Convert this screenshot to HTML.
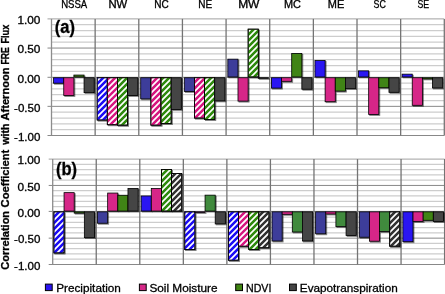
<!DOCTYPE html>
<html><head><meta charset="utf-8"><title>Correlation chart</title>
<style>html,body{margin:0;padding:0;background:#fff}body{width:445px;height:294px;overflow:hidden}</style></head>
<body>
<svg width="445" height="294" viewBox="0 0 445 294" style="display:block">
<defs>
<filter id="sh" x="-20%" y="-20%" width="150%" height="150%"><feGaussianBlur in="SourceAlpha" stdDeviation="0.55"/><feOffset dx="0.8" dy="0.8"/><feComponentTransfer><feFuncA type="linear" slope="0.5"/></feComponentTransfer><feMerge><feMergeNode/><feMergeNode in="SourceGraphic"/></feMerge></filter>
</defs>
<rect width="445" height="294" fill="#fff"/>
<line x1="51.50" x2="444.30" y1="24.73" y2="24.73" stroke="#cdcdcd" stroke-width="1.25"/>
<line x1="51.50" x2="444.30" y1="30.56" y2="30.56" stroke="#cdcdcd" stroke-width="1.25"/>
<line x1="51.50" x2="444.30" y1="36.39" y2="36.39" stroke="#cdcdcd" stroke-width="1.25"/>
<line x1="51.50" x2="444.30" y1="42.22" y2="42.22" stroke="#cdcdcd" stroke-width="1.25"/>
<line x1="51.50" x2="444.30" y1="53.88" y2="53.88" stroke="#cdcdcd" stroke-width="1.25"/>
<line x1="51.50" x2="444.30" y1="59.71" y2="59.71" stroke="#cdcdcd" stroke-width="1.25"/>
<line x1="51.50" x2="444.30" y1="65.54" y2="65.54" stroke="#cdcdcd" stroke-width="1.25"/>
<line x1="51.50" x2="444.30" y1="71.37" y2="71.37" stroke="#cdcdcd" stroke-width="1.25"/>
<line x1="51.50" x2="444.30" y1="83.03" y2="83.03" stroke="#cdcdcd" stroke-width="1.25"/>
<line x1="51.50" x2="444.30" y1="88.86" y2="88.86" stroke="#cdcdcd" stroke-width="1.25"/>
<line x1="51.50" x2="444.30" y1="94.69" y2="94.69" stroke="#cdcdcd" stroke-width="1.25"/>
<line x1="51.50" x2="444.30" y1="100.52" y2="100.52" stroke="#cdcdcd" stroke-width="1.25"/>
<line x1="51.50" x2="444.30" y1="112.18" y2="112.18" stroke="#cdcdcd" stroke-width="1.25"/>
<line x1="51.50" x2="444.30" y1="118.01" y2="118.01" stroke="#cdcdcd" stroke-width="1.25"/>
<line x1="51.50" x2="444.30" y1="123.84" y2="123.84" stroke="#cdcdcd" stroke-width="1.25"/>
<line x1="51.50" x2="444.30" y1="129.67" y2="129.67" stroke="#cdcdcd" stroke-width="1.25"/>
<line x1="47.50" x2="444.30" y1="18.90" y2="18.90" stroke="#a0a0a0" stroke-width="1"/>
<line x1="47.50" x2="444.30" y1="48.05" y2="48.05" stroke="#888888" stroke-width="1"/>
<line x1="47.50" x2="444.30" y1="77.30" y2="77.30" stroke="#888888" stroke-width="1"/>
<line x1="47.50" x2="444.30" y1="106.35" y2="106.35" stroke="#888888" stroke-width="1"/>
<line x1="47.50" x2="444.30" y1="135.50" y2="135.50" stroke="#888888" stroke-width="1"/>
<line x1="51.50" x2="51.50" y1="18.90" y2="135.50" stroke="#8c8c8c" stroke-width="1.3"/>
<line x1="95.14" x2="95.14" y1="18.90" y2="135.50" stroke="#747474" stroke-width="1.3"/>
<line x1="138.79" x2="138.79" y1="18.90" y2="135.50" stroke="#747474" stroke-width="1.3"/>
<line x1="182.43" x2="182.43" y1="18.90" y2="135.50" stroke="#747474" stroke-width="1.3"/>
<line x1="226.08" x2="226.08" y1="18.90" y2="135.50" stroke="#747474" stroke-width="1.3"/>
<line x1="269.72" x2="269.72" y1="18.90" y2="135.50" stroke="#747474" stroke-width="1.3"/>
<line x1="313.37" x2="313.37" y1="18.90" y2="135.50" stroke="#747474" stroke-width="1.3"/>
<line x1="357.01" x2="357.01" y1="18.90" y2="135.50" stroke="#747474" stroke-width="1.3"/>
<line x1="400.66" x2="400.66" y1="18.90" y2="135.50" stroke="#747474" stroke-width="1.3"/>
<line x1="444.30" x2="444.30" y1="18.90" y2="135.50" stroke="#747474" stroke-width="1.3"/>
<g filter="url(#sh)" stroke="#000" stroke-width="0.8">
<rect x="53.60" y="77.75" width="10.15" height="5.45" fill="#2a14f2"/>
<rect x="63.75" y="77.75" width="10.15" height="17.75" fill="#d62888"/>
<rect x="73.90" y="75.05" width="10.15" height="1.90" fill="#3f8412"/>
<rect x="84.05" y="77.75" width="10.15" height="14.85" fill="#444444"/>
<clipPath id="c1"><rect x="97.16" y="77.75" width="10.15" height="42.25"/></clipPath>
<rect x="97.16" y="77.75" width="10.15" height="42.25" fill="#fff"/>
<path d="M96.16 72.84L108.31 60.69M96.16 78.84L108.31 66.69M96.16 84.84L108.31 72.69M96.16 90.84L108.31 78.69M96.16 96.84L108.31 84.69M96.16 102.84L108.31 90.69M96.16 108.84L108.31 96.69M96.16 114.84L108.31 102.69M96.16 120.84L108.31 108.69M96.16 126.84L108.31 114.69M96.16 132.84L108.31 120.69M96.16 138.84L108.31 126.69" stroke="#1f10f5" stroke-width="2.55" fill="none" clip-path="url(#c1)"/>
<rect x="97.16" y="77.75" width="10.15" height="42.25" fill="none"/>
<clipPath id="c2"><rect x="107.31" y="77.75" width="10.15" height="46.95"/></clipPath>
<rect x="107.31" y="77.75" width="10.15" height="46.95" fill="#fff"/>
<path d="M106.31 74.69L118.46 62.54M106.31 80.69L118.46 68.54M106.31 86.69L118.46 74.54M106.31 92.69L118.46 80.54M106.31 98.69L118.46 86.54M106.31 104.69L118.46 92.54M106.31 110.69L118.46 98.54M106.31 116.69L118.46 104.54M106.31 122.69L118.46 110.54M106.31 128.69L118.46 116.54M106.31 134.69L118.46 122.54M106.31 140.69L118.46 128.54" stroke="#d6197f" stroke-width="2.55" fill="none" clip-path="url(#c2)"/>
<rect x="107.31" y="77.75" width="10.15" height="46.95" fill="none"/>
<clipPath id="c3"><rect x="117.46" y="77.75" width="10.15" height="47.35"/></clipPath>
<rect x="117.46" y="77.75" width="10.15" height="47.35" fill="#fff"/>
<path d="M116.46 76.54L128.61 64.39M116.46 82.54L128.61 70.39M116.46 88.54L128.61 76.39M116.46 94.54L128.61 82.39M116.46 100.54L128.61 88.39M116.46 106.54L128.61 94.39M116.46 112.54L128.61 100.39M116.46 118.54L128.61 106.39M116.46 124.54L128.61 112.39M116.46 130.54L128.61 118.39M116.46 136.54L128.61 124.39M116.46 142.54L128.61 130.39" stroke="#2e8a0a" stroke-width="2.55" fill="none" clip-path="url(#c3)"/>
<rect x="117.46" y="77.75" width="10.15" height="47.35" fill="none"/>
<rect x="127.61" y="77.75" width="10.15" height="17.75" fill="#444444"/>
<rect x="140.72" y="77.75" width="10.15" height="21.15" fill="#3c3c9a"/>
<clipPath id="c4"><rect x="150.87" y="77.75" width="10.15" height="47.35"/></clipPath>
<rect x="150.87" y="77.75" width="10.15" height="47.35" fill="#fff"/>
<path d="M149.87 73.13L162.02 60.98M149.87 79.13L162.02 66.98M149.87 85.13L162.02 72.98M149.87 91.13L162.02 78.98M149.87 97.13L162.02 84.98M149.87 103.13L162.02 90.98M149.87 109.13L162.02 96.98M149.87 115.13L162.02 102.98M149.87 121.13L162.02 108.98M149.87 127.13L162.02 114.98M149.87 133.13L162.02 120.98M149.87 139.13L162.02 126.98" stroke="#d6197f" stroke-width="2.55" fill="none" clip-path="url(#c4)"/>
<rect x="150.87" y="77.75" width="10.15" height="47.35" fill="none"/>
<clipPath id="c5"><rect x="161.02" y="77.75" width="10.15" height="45.85"/></clipPath>
<rect x="161.02" y="77.75" width="10.15" height="45.85" fill="#fff"/>
<path d="M160.02 74.98L172.17 62.83M160.02 80.98L172.17 68.83M160.02 86.98L172.17 74.83M160.02 92.98L172.17 80.83M160.02 98.98L172.17 86.83M160.02 104.98L172.17 92.83M160.02 110.98L172.17 98.83M160.02 116.98L172.17 104.83M160.02 122.98L172.17 110.83M160.02 128.98L172.17 116.83M160.02 134.98L172.17 122.83M160.02 140.98L172.17 128.83" stroke="#2e8a0a" stroke-width="2.55" fill="none" clip-path="url(#c5)"/>
<rect x="161.02" y="77.75" width="10.15" height="45.85" fill="none"/>
<rect x="171.17" y="77.75" width="10.15" height="31.65" fill="#444444"/>
<rect x="184.28" y="77.75" width="10.15" height="13.65" fill="#3c3c9a"/>
<clipPath id="c6"><rect x="194.43" y="77.75" width="10.15" height="40.25"/></clipPath>
<rect x="194.43" y="77.75" width="10.15" height="40.25" fill="#fff"/>
<path d="M193.43 71.57L205.58 59.42M193.43 77.57L205.58 65.42M193.43 83.57L205.58 71.42M193.43 89.57L205.58 77.42M193.43 95.57L205.58 83.42M193.43 101.57L205.58 89.42M193.43 107.57L205.58 95.42M193.43 113.57L205.58 101.42M193.43 119.57L205.58 107.42M193.43 125.57L205.58 113.42M193.43 131.57L205.58 119.42" stroke="#d6197f" stroke-width="2.55" fill="none" clip-path="url(#c6)"/>
<rect x="194.43" y="77.75" width="10.15" height="40.25" fill="none"/>
<clipPath id="c7"><rect x="204.58" y="77.75" width="10.15" height="41.75"/></clipPath>
<rect x="204.58" y="77.75" width="10.15" height="41.75" fill="#fff"/>
<path d="M203.58 73.42L215.73 61.27M203.58 79.42L215.73 67.27M203.58 85.42L215.73 73.27M203.58 91.42L215.73 79.27M203.58 97.42L215.73 85.27M203.58 103.42L215.73 91.27M203.58 109.42L215.73 97.27M203.58 115.42L215.73 103.27M203.58 121.42L215.73 109.27M203.58 127.42L215.73 115.27M203.58 133.42L215.73 121.27" stroke="#2e8a0a" stroke-width="2.55" fill="none" clip-path="url(#c7)"/>
<rect x="204.58" y="77.75" width="10.15" height="41.75" fill="none"/>
<rect x="214.73" y="77.75" width="10.15" height="23.15" fill="#444444"/>
<rect x="227.84" y="59.15" width="10.15" height="17.80" fill="#3c3c9a"/>
<rect x="237.99" y="77.75" width="10.15" height="23.35" fill="#d62888"/>
<clipPath id="c8"><rect x="248.14" y="29.15" width="10.15" height="47.80"/></clipPath>
<rect x="248.14" y="29.15" width="10.15" height="47.80" fill="#fff"/>
<path d="M247.14 23.86L259.29 11.71M247.14 29.86L259.29 17.71M247.14 35.86L259.29 23.71M247.14 41.86L259.29 29.71M247.14 47.86L259.29 35.71M247.14 53.86L259.29 41.71M247.14 59.86L259.29 47.71M247.14 65.86L259.29 53.71M247.14 71.86L259.29 59.71M247.14 77.86L259.29 65.71M247.14 83.86L259.29 71.71M247.14 89.86L259.29 77.71M247.14 95.86L259.29 83.71" stroke="#2e8a0a" stroke-width="2.55" fill="none" clip-path="url(#c8)"/>
<rect x="248.14" y="29.15" width="10.15" height="47.80" fill="none"/>
<rect x="258.29" y="77.75" width="10.15" height="0.55" fill="#444444"/>
<rect x="271.40" y="77.75" width="10.15" height="10.35" fill="#2a14f2"/>
<rect x="281.55" y="77.75" width="10.15" height="3.55" fill="#d62888"/>
<rect x="291.70" y="53.45" width="10.15" height="23.50" fill="#3f8412"/>
<rect x="301.85" y="77.75" width="10.15" height="11.45" fill="#444444"/>
<rect x="314.96" y="60.55" width="10.15" height="16.40" fill="#2a14f2"/>
<rect x="325.11" y="77.75" width="10.15" height="23.95" fill="#d62888"/>
<rect x="335.26" y="77.75" width="10.15" height="13.35" fill="#3f8412"/>
<rect x="345.41" y="77.75" width="10.15" height="10.85" fill="#444444"/>
<rect x="358.52" y="70.85" width="10.15" height="6.10" fill="#2a14f2"/>
<rect x="368.67" y="77.75" width="10.15" height="36.65" fill="#d62888"/>
<rect x="378.82" y="77.75" width="10.15" height="9.95" fill="#3f8412"/>
<rect x="388.97" y="77.75" width="10.15" height="14.55" fill="#444444"/>
<rect x="402.08" y="74.15" width="10.15" height="2.80" fill="#2a14f2"/>
<rect x="412.23" y="77.75" width="10.15" height="27.55" fill="#d62888"/>
<rect x="422.38" y="77.75" width="10.15" height="1.15" fill="#3f8412"/>
<rect x="432.53" y="77.75" width="10.15" height="10.25" fill="#444444"/>
</g>
<line x1="52.70" x2="444.60" y1="164.37" y2="164.37" stroke="#cdcdcd" stroke-width="1.25"/>
<line x1="52.70" x2="444.60" y1="169.64" y2="169.64" stroke="#cdcdcd" stroke-width="1.25"/>
<line x1="52.70" x2="444.60" y1="174.91" y2="174.91" stroke="#cdcdcd" stroke-width="1.25"/>
<line x1="52.70" x2="444.60" y1="180.18" y2="180.18" stroke="#cdcdcd" stroke-width="1.25"/>
<line x1="52.70" x2="444.60" y1="190.72" y2="190.72" stroke="#cdcdcd" stroke-width="1.25"/>
<line x1="52.70" x2="444.60" y1="195.99" y2="195.99" stroke="#cdcdcd" stroke-width="1.25"/>
<line x1="52.70" x2="444.60" y1="201.26" y2="201.26" stroke="#cdcdcd" stroke-width="1.25"/>
<line x1="52.70" x2="444.60" y1="206.53" y2="206.53" stroke="#cdcdcd" stroke-width="1.25"/>
<line x1="52.70" x2="444.60" y1="217.07" y2="217.07" stroke="#cdcdcd" stroke-width="1.25"/>
<line x1="52.70" x2="444.60" y1="222.34" y2="222.34" stroke="#cdcdcd" stroke-width="1.25"/>
<line x1="52.70" x2="444.60" y1="227.61" y2="227.61" stroke="#cdcdcd" stroke-width="1.25"/>
<line x1="52.70" x2="444.60" y1="232.88" y2="232.88" stroke="#cdcdcd" stroke-width="1.25"/>
<line x1="52.70" x2="444.60" y1="243.42" y2="243.42" stroke="#cdcdcd" stroke-width="1.25"/>
<line x1="52.70" x2="444.60" y1="248.69" y2="248.69" stroke="#cdcdcd" stroke-width="1.25"/>
<line x1="52.70" x2="444.60" y1="253.96" y2="253.96" stroke="#cdcdcd" stroke-width="1.25"/>
<line x1="52.70" x2="444.60" y1="259.23" y2="259.23" stroke="#cdcdcd" stroke-width="1.25"/>
<line x1="48.70" x2="444.60" y1="159.10" y2="159.10" stroke="#a0a0a0" stroke-width="1"/>
<line x1="48.70" x2="444.60" y1="185.45" y2="185.45" stroke="#888888" stroke-width="1"/>
<line x1="48.70" x2="444.60" y1="211.40" y2="211.40" stroke="#888888" stroke-width="1"/>
<line x1="48.70" x2="444.60" y1="238.15" y2="238.15" stroke="#888888" stroke-width="1"/>
<line x1="48.70" x2="444.60" y1="264.50" y2="264.50" stroke="#888888" stroke-width="1"/>
<line x1="52.70" x2="52.70" y1="159.10" y2="264.50" stroke="#8c8c8c" stroke-width="1.3"/>
<line x1="96.24" x2="96.24" y1="159.10" y2="264.50" stroke="#747474" stroke-width="1.3"/>
<line x1="139.79" x2="139.79" y1="159.10" y2="264.50" stroke="#747474" stroke-width="1.3"/>
<line x1="183.33" x2="183.33" y1="159.10" y2="264.50" stroke="#747474" stroke-width="1.3"/>
<line x1="226.88" x2="226.88" y1="159.10" y2="264.50" stroke="#747474" stroke-width="1.3"/>
<line x1="270.42" x2="270.42" y1="159.10" y2="264.50" stroke="#747474" stroke-width="1.3"/>
<line x1="313.97" x2="313.97" y1="159.10" y2="264.50" stroke="#747474" stroke-width="1.3"/>
<line x1="357.51" x2="357.51" y1="159.10" y2="264.50" stroke="#747474" stroke-width="1.3"/>
<line x1="401.06" x2="401.06" y1="159.10" y2="264.50" stroke="#747474" stroke-width="1.3"/>
<line x1="444.60" x2="444.60" y1="159.10" y2="264.50" stroke="#747474" stroke-width="1.3"/>
<g filter="url(#sh)" stroke="#000" stroke-width="0.8">
<clipPath id="c9"><rect x="53.90" y="211.85" width="10.15" height="41.05"/></clipPath>
<rect x="53.90" y="211.85" width="10.15" height="41.05" fill="#fff"/>
<path d="M52.90 206.10L65.05 193.95M52.90 212.10L65.05 199.95M52.90 218.10L65.05 205.95M52.90 224.10L65.05 211.95M52.90 230.10L65.05 217.95M52.90 236.10L65.05 223.95M52.90 242.10L65.05 229.95M52.90 248.10L65.05 235.95M52.90 254.10L65.05 241.95M52.90 260.10L65.05 247.95M52.90 266.10L65.05 253.95" stroke="#1f10f5" stroke-width="2.55" fill="none" clip-path="url(#c9)"/>
<rect x="53.90" y="211.85" width="10.15" height="41.05" fill="none"/>
<rect x="64.05" y="192.65" width="10.15" height="18.40" fill="#d62888"/>
<rect x="74.20" y="211.85" width="10.15" height="1.25" fill="#3f8412"/>
<rect x="84.35" y="211.85" width="10.15" height="25.75" fill="#444444"/>
<rect x="97.52" y="211.85" width="10.15" height="11.35" fill="#3c3c9a"/>
<rect x="107.67" y="193.05" width="10.15" height="18.00" fill="#d62888"/>
<rect x="117.82" y="195.25" width="10.15" height="15.80" fill="#3f8412"/>
<rect x="127.97" y="188.55" width="10.15" height="22.50" fill="#444444"/>
<rect x="141.14" y="195.95" width="10.15" height="15.10" fill="#2a14f2"/>
<rect x="151.29" y="188.55" width="10.15" height="22.50" fill="#d62888"/>
<clipPath id="c10"><rect x="161.44" y="169.45" width="10.15" height="41.60"/></clipPath>
<rect x="161.44" y="169.45" width="10.15" height="41.60" fill="#fff"/>
<path d="M160.44 164.56L172.59 152.41M160.44 170.56L172.59 158.41M160.44 176.56L172.59 164.41M160.44 182.56L172.59 170.41M160.44 188.56L172.59 176.41M160.44 194.56L172.59 182.41M160.44 200.56L172.59 188.41M160.44 206.56L172.59 194.41M160.44 212.56L172.59 200.41M160.44 218.56L172.59 206.41M160.44 224.56L172.59 212.41" stroke="#2e8a0a" stroke-width="2.55" fill="none" clip-path="url(#c10)"/>
<rect x="161.44" y="169.45" width="10.15" height="41.60" fill="none"/>
<clipPath id="c11"><rect x="171.59" y="173.55" width="10.15" height="37.50"/></clipPath>
<rect x="171.59" y="173.55" width="10.15" height="37.50" fill="#fff"/>
<path d="M170.59 172.41L182.74 160.26M170.59 178.41L182.74 166.26M170.59 184.41L182.74 172.26M170.59 190.41L182.74 178.26M170.59 196.41L182.74 184.26M170.59 202.41L182.74 190.26M170.59 208.41L182.74 196.26M170.59 214.41L182.74 202.26M170.59 220.41L182.74 208.26M170.59 226.41L182.74 214.26" stroke="#333333" stroke-width="2.55" fill="none" clip-path="url(#c11)"/>
<rect x="171.59" y="173.55" width="10.15" height="37.50" fill="none"/>
<clipPath id="c12"><rect x="184.76" y="211.85" width="10.15" height="37.75"/></clipPath>
<rect x="184.76" y="211.85" width="10.15" height="37.75" fill="#fff"/>
<path d="M183.76 207.24L195.91 195.09M183.76 213.24L195.91 201.09M183.76 219.24L195.91 207.09M183.76 225.24L195.91 213.09M183.76 231.24L195.91 219.09M183.76 237.24L195.91 225.09M183.76 243.24L195.91 231.09M183.76 249.24L195.91 237.09M183.76 255.24L195.91 243.09M183.76 261.24L195.91 249.09M183.76 267.24L195.91 255.09" stroke="#1f10f5" stroke-width="2.55" fill="none" clip-path="url(#c12)"/>
<rect x="184.76" y="211.85" width="10.15" height="37.75" fill="none"/>
<rect x="194.91" y="211.85" width="10.15" height="0.55" fill="#d62888"/>
<rect x="205.06" y="195.15" width="10.15" height="15.90" fill="#3f8a3c"/>
<rect x="215.21" y="211.85" width="10.15" height="12.05" fill="#444444"/>
<clipPath id="c13"><rect x="228.38" y="211.85" width="10.15" height="48.35"/></clipPath>
<rect x="228.38" y="211.85" width="10.15" height="48.35" fill="#fff"/>
<path d="M227.38 205.62L239.53 193.47M227.38 211.62L239.53 199.47M227.38 217.62L239.53 205.47M227.38 223.62L239.53 211.47M227.38 229.62L239.53 217.47M227.38 235.62L239.53 223.47M227.38 241.62L239.53 229.47M227.38 247.62L239.53 235.47M227.38 253.62L239.53 241.47M227.38 259.62L239.53 247.47M227.38 265.62L239.53 253.47M227.38 271.62L239.53 259.47M227.38 277.62L239.53 265.47" stroke="#1f10f5" stroke-width="2.55" fill="none" clip-path="url(#c13)"/>
<rect x="228.38" y="211.85" width="10.15" height="48.35" fill="none"/>
<clipPath id="c14"><rect x="238.53" y="211.85" width="10.15" height="34.35"/></clipPath>
<rect x="238.53" y="211.85" width="10.15" height="34.35" fill="#fff"/>
<path d="M237.53 207.47L249.68 195.32M237.53 213.47L249.68 201.32M237.53 219.47L249.68 207.32M237.53 225.47L249.68 213.32M237.53 231.47L249.68 219.32M237.53 237.47L249.68 225.32M237.53 243.47L249.68 231.32M237.53 249.47L249.68 237.32M237.53 255.47L249.68 243.32M237.53 261.47L249.68 249.32" stroke="#d6197f" stroke-width="2.55" fill="none" clip-path="url(#c14)"/>
<rect x="238.53" y="211.85" width="10.15" height="34.35" fill="none"/>
<clipPath id="c15"><rect x="248.68" y="211.85" width="10.15" height="37.55"/></clipPath>
<rect x="248.68" y="211.85" width="10.15" height="37.55" fill="#fff"/>
<path d="M247.68 209.32L259.83 197.17M247.68 215.32L259.83 203.17M247.68 221.32L259.83 209.17M247.68 227.32L259.83 215.17M247.68 233.32L259.83 221.17M247.68 239.32L259.83 227.17M247.68 245.32L259.83 233.17M247.68 251.32L259.83 239.17M247.68 257.32L259.83 245.17M247.68 263.32L259.83 251.17" stroke="#2e8a0a" stroke-width="2.55" fill="none" clip-path="url(#c15)"/>
<rect x="248.68" y="211.85" width="10.15" height="37.55" fill="none"/>
<clipPath id="c16"><rect x="258.83" y="211.85" width="10.15" height="35.95"/></clipPath>
<rect x="258.83" y="211.85" width="10.15" height="35.95" fill="#fff"/>
<path d="M257.83 205.17L269.98 193.02M257.83 211.17L269.98 199.02M257.83 217.17L269.98 205.02M257.83 223.17L269.98 211.02M257.83 229.17L269.98 217.02M257.83 235.17L269.98 223.02M257.83 241.17L269.98 229.02M257.83 247.17L269.98 235.02M257.83 253.17L269.98 241.02M257.83 259.17L269.98 247.02M257.83 265.17L269.98 253.02" stroke="#333333" stroke-width="2.55" fill="none" clip-path="url(#c16)"/>
<rect x="258.83" y="211.85" width="10.15" height="35.95" fill="none"/>
<rect x="272.00" y="211.85" width="10.15" height="29.15" fill="#3c3c9a"/>
<rect x="282.15" y="211.85" width="10.15" height="2.45" fill="#d62888"/>
<rect x="292.30" y="211.85" width="10.15" height="20.15" fill="#3f8a3c"/>
<rect x="302.45" y="211.85" width="10.15" height="29.15" fill="#444444"/>
<rect x="315.62" y="211.85" width="10.15" height="21.95" fill="#3c3c9a"/>
<rect x="325.77" y="211.85" width="10.15" height="2.15" fill="#d62888"/>
<rect x="335.92" y="211.85" width="10.15" height="14.75" fill="#3f8a3c"/>
<rect x="346.07" y="211.85" width="10.15" height="23.55" fill="#444444"/>
<rect x="359.24" y="211.85" width="10.15" height="25.35" fill="#3c3c9a"/>
<rect x="369.39" y="211.85" width="10.15" height="29.35" fill="#d62888"/>
<rect x="379.54" y="211.85" width="10.15" height="19.75" fill="#3f8a3c"/>
<clipPath id="c17"><rect x="389.69" y="211.85" width="10.15" height="34.35"/></clipPath>
<rect x="389.69" y="211.85" width="10.15" height="34.35" fill="#fff"/>
<path d="M388.69 206.31L400.84 194.16M388.69 212.31L400.84 200.16M388.69 218.31L400.84 206.16M388.69 224.31L400.84 212.16M388.69 230.31L400.84 218.16M388.69 236.31L400.84 224.16M388.69 242.31L400.84 230.16M388.69 248.31L400.84 236.16M388.69 254.31L400.84 242.16M388.69 260.31L400.84 248.16" stroke="#333333" stroke-width="2.55" fill="none" clip-path="url(#c17)"/>
<rect x="389.69" y="211.85" width="10.15" height="34.35" fill="none"/>
<rect x="402.86" y="211.85" width="10.15" height="29.85" fill="#2a14f2"/>
<rect x="413.01" y="211.85" width="10.15" height="9.55" fill="#d62888"/>
<rect x="423.16" y="211.85" width="10.15" height="8.45" fill="#3f8412"/>
<rect x="433.31" y="211.85" width="10.15" height="9.55" fill="#444444"/>
</g>
<g font-family="Liberation Sans, sans-serif" font-size="10.7" fill="#000" stroke="#000" stroke-width="0.3">
<text x="61.17" y="8.25" font-size="10.3" textLength="26.099999999999998" lengthAdjust="spacingAndGlyphs">NSSA</text>
<text x="108.47" y="8.25" font-size="10.3" textLength="18.799999999999997" lengthAdjust="spacingAndGlyphs">NW</text>
<text x="154.26" y="8.25" font-size="10.3" textLength="14.5" lengthAdjust="spacingAndGlyphs">NC</text>
<text x="198.21" y="8.25" font-size="10.3" textLength="13.9" lengthAdjust="spacingAndGlyphs">NE</text>
<text x="238.15" y="8.25" font-size="10.3" textLength="21.299999999999997" lengthAdjust="spacingAndGlyphs">MW</text>
<text x="283.94" y="8.25" font-size="10.3" textLength="17.0" lengthAdjust="spacingAndGlyphs">MC</text>
<text x="327.84" y="8.25" font-size="10.3" textLength="16.5" lengthAdjust="spacingAndGlyphs">ME</text>
<text x="373.58" y="8.25" font-size="10.3" textLength="12.3" lengthAdjust="spacingAndGlyphs">SC</text>
<text x="417.53" y="8.25" font-size="10.3" textLength="11.700000000000001" lengthAdjust="spacingAndGlyphs">SE</text>
<text x="17.40" y="24.10" textLength="23.0" lengthAdjust="spacingAndGlyphs">1.00</text>
<text x="17.40" y="53.25" textLength="23.0" lengthAdjust="spacingAndGlyphs">0.50</text>
<text x="17.40" y="82.50" textLength="23.0" lengthAdjust="spacingAndGlyphs">0.00</text>
<text x="14.10" y="111.55" textLength="26.3" lengthAdjust="spacingAndGlyphs">-0.50</text>
<text x="14.10" y="140.70" textLength="26.3" lengthAdjust="spacingAndGlyphs">-1.00</text>
<text x="17.40" y="164.30" textLength="23.0" lengthAdjust="spacingAndGlyphs">1.00</text>
<text x="17.40" y="190.65" textLength="23.0" lengthAdjust="spacingAndGlyphs">0.50</text>
<text x="17.40" y="216.60" textLength="23.0" lengthAdjust="spacingAndGlyphs">0.00</text>
<text x="14.10" y="243.35" textLength="26.3" lengthAdjust="spacingAndGlyphs">-0.50</text>
<text x="14.10" y="269.70" textLength="26.3" lengthAdjust="spacingAndGlyphs">-1.00</text>
</g>
<g font-family="Liberation Sans, sans-serif" font-weight="bold" fill="#000" stroke="#000" stroke-width="0.3">
<text x="54.8" y="33.1" font-size="18" textLength="20.2" lengthAdjust="spacingAndGlyphs">(a)</text>
<text x="55.9" y="174.5" font-size="18" textLength="21.1" lengthAdjust="spacingAndGlyphs">(b)</text>
<g transform="translate(9.1 0) rotate(-90)" font-size="10.7">
<text x="-269.70" y="0" textLength="58.80" lengthAdjust="spacingAndGlyphs">Correlation</text>
<text x="-207.40" y="0" textLength="57.70" lengthAdjust="spacingAndGlyphs">Coefficient</text>
<text x="-144.70" y="0" textLength="21.10" lengthAdjust="spacingAndGlyphs">with</text>
<text x="-120.50" y="0" textLength="53.00" lengthAdjust="spacingAndGlyphs">Afternoon</text>
<text x="-64.50" y="0" textLength="17.40" lengthAdjust="spacingAndGlyphs">FRE</text>
<text x="-43.60" y="0" textLength="18.90" lengthAdjust="spacingAndGlyphs">Flux</text>
</g>
</g>
<g font-family="Liberation Sans, sans-serif" font-size="11.7" fill="#000" stroke="#000" stroke-width="0.3">
<rect x="45.4" y="284.1" width="6.8" height="6.5" fill="#2a14f2" stroke="#000" stroke-width="1"/>
<text x="56.2" y="291.8" textLength="64.7" lengthAdjust="spacingAndGlyphs">Precipitation</text>
<rect x="139.4" y="284.1" width="6.8" height="6.5" fill="#d62888" stroke="#000" stroke-width="1"/>
<text x="149.4" y="291.8" textLength="68.2" lengthAdjust="spacingAndGlyphs">Soil Moisture</text>
<rect x="235.7" y="284.1" width="6.8" height="6.5" fill="#3f8412" stroke="#000" stroke-width="1"/>
<text x="246.0" y="291.8" textLength="25.4" lengthAdjust="spacingAndGlyphs">NDVI</text>
<rect x="289.5" y="284.1" width="6.8" height="6.5" fill="#444444" stroke="#000" stroke-width="1"/>
<text x="299.8" y="291.8" textLength="97.9" lengthAdjust="spacingAndGlyphs">Evapotranspiration</text>
</g>
</svg>
</body></html>
